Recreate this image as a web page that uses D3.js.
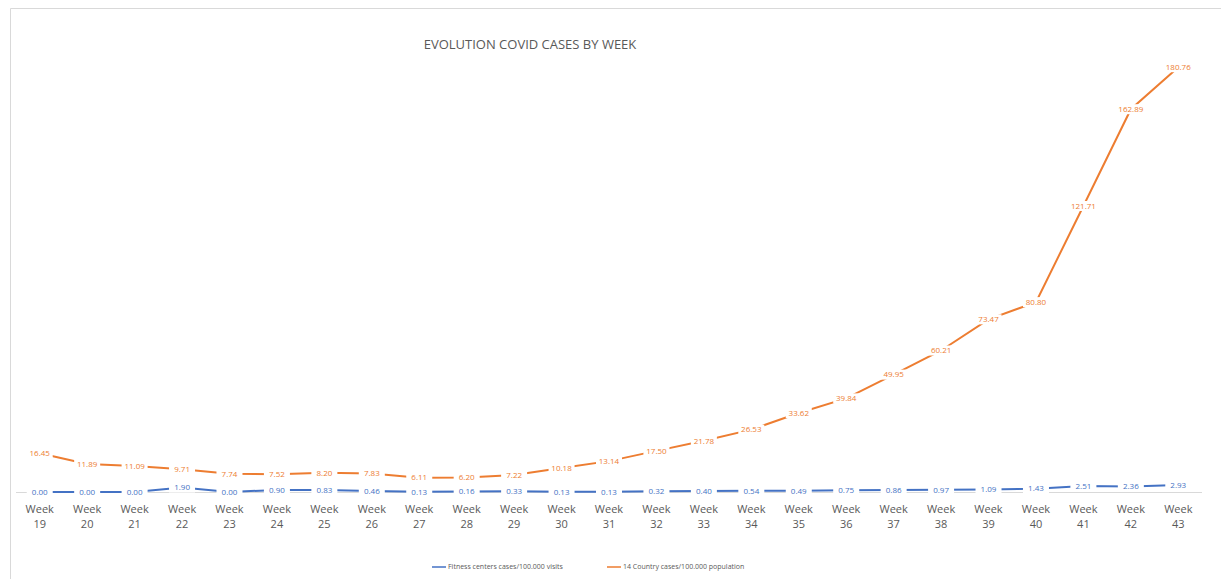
<!DOCTYPE html>
<html>
<head>
<meta charset="utf-8">
<script src="https://cdn.jsdelivr.net/npm/d3@7"></script>
<style>
  body { margin: 0; background: #fff; }
  svg { font-family: "Open Sans", "Liberation Sans", sans-serif; }
</style>
</head>
<body>
<div id="chart"></div>
<script>
// weeks shown on the category axis
var weeks = [19, 20, 21, 22, 23, 24, 25, 26, 27, 28, 29, 30, 31, 32, 33, 34, 35, 36, 37, 38, 39, 40, 41, 42, 43];

// Fitness centers cases/100.000 visits
var fitness = [0.00, 0.00, 0.00, 1.90, 0.00, 0.90, 0.83, 0.46, 0.13, 0.16, 0.33, 0.13, 0.13,
               0.32, 0.40, 0.54, 0.49, 0.75, 0.86, 0.97, 1.09, 1.43, 2.51, 2.36, 2.93];

// 14 Country cases/100.000 population
var country = [16.45, 11.89, 11.09, 9.71, 7.74, 7.52, 8.20, 7.83, 6.11, 6.20, 7.22, 10.18, 13.14,
               17.50, 21.78, 26.53, 33.62, 39.84, 49.95, 60.21, 73.47, 80.80, 121.71, 162.89, 180.76];

var seriesNames = ["Fitness centers cases/100.000 visits", "14 Country cases/100.000 population"];
var colors = ["#4472C4", "#ED7D31"];

var width = 1221, height = 579;

var svg = d3.select("#chart").append("svg")
    .attr("width", width)
    .attr("height", height);

// chart border (cropped excel chart)
svg.append("path")
    .attr("d", "M10.5,579 V8.5 H1221")
    .attr("fill", "none")
    .attr("stroke", "#d9d9d9");

// title
svg.append("text")
    .attr("x", 530)
    .attr("y", 49)
    .attr("text-anchor", "middle")
    .attr("font-size", "13px")
    .attr("fill", "#595959")
    .text("EVOLUTION COVID CASES BY WEEK");

var x = d3.scaleBand()
    .domain(weeks)
    .range([16, 1202]);

var y = d3.scaleLinear()
    .domain([0, 200])
    .range([492, 22]);

// category axis line
svg.append("line")
    .attr("x1", x.range()[0]).attr("x2", x.range()[1])
    .attr("y1", y(0) + 0.5).attr("y2", y(0) + 0.5)
    .attr("stroke", "#d9d9d9");

var ticks = svg.append("g").selectAll("text")
    .data(weeks)
    .join("text")
      .attr("text-anchor", "middle")
      .attr("font-size", "11px")
      .attr("fill", "#595959");
ticks.append("tspan")
    .attr("x", d => x(d) + x.bandwidth() / 2)
    .attr("y", 513)
    .text("Week");
ticks.append("tspan")
    .attr("x", d => x(d) + x.bandwidth() / 2)
    .attr("y", 528)
    .text(d => d);

var line = d3.line()
    .x((d, i) => x(weeks[i]) + x.bandwidth() / 2)
    .y(d => y(d));

var fmt = d3.format(".2f");

[fitness, country].forEach(function(values, s) {
  svg.append("path")
      .datum(values)
      .attr("fill", "none")
      .attr("stroke", colors[s])
      .attr("stroke-width", 2)
      .attr("d", line);

  var lab = svg.append("g").selectAll("g")
      .data(values)
      .join("g")
        .attr("transform", (d, i) => "translate(" + (x(weeks[i]) + x.bandwidth() / 2) + "," + y(d) + ")");

  lab.append("rect")
      .attr("x", -13).attr("y", -5)
      .attr("width", 26).attr("height", 10)
      .attr("fill", "#fff");

  lab.append("text")
      .attr("text-anchor", "middle")
      .attr("dy", "0.35em")
      .attr("font-size", "8px")
      .attr("fill", colors[s])
      .text(d => fmt(d));
});

// legend
var legend = svg.append("g")
    .selectAll("g")
    .data(seriesNames)
    .join("g")
      .attr("transform", (d, i) => "translate(" + [432, 607][i] + ",567)");

legend.append("line")
    .attr("x1", 0).attr("x2", 14)
    .attr("stroke", (d, i) => colors[i])
    .attr("stroke-width", 1.5);

legend.append("text")
    .attr("x", 16)
    .attr("dy", "0.35em")
    .attr("font-size", "7px")
    .attr("fill", "#595959")
    .text(d => d);
</script>
</body>
</html>
